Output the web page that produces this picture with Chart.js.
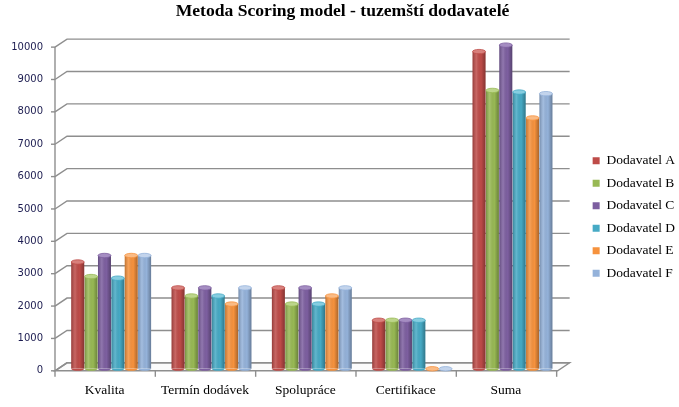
<!doctype html>
<html lang="cs">
<head>
<meta charset="utf-8">
<title>Metoda Scoring model</title>
<style>
  * { margin: 0; padding: 0; }
  body { background: #fff; }
  .chartBox { width: 679px; height: 407px; }
</style>
</head>
<body>
<div class="chartBox"><canvas id="myChart"></canvas></div>
<script src="https://cdn.jsdelivr.net/npm/chart.js/dist/chart.umd.min.js"></script>
<script>
// data
const categories = ['Kvalita', 'Termín dodávek', 'Spolupráce', 'Certifikace', 'Suma']
const seriesNames = ['Dodavatel A', 'Dodavatel B', 'Dodavatel C', 'Dodavatel D', 'Dodavatel E', 'Dodavatel F']
const dodavatelA = [3300, 2500, 2500, 1500, 9800]
const dodavatelB = [2850, 2250, 2000, 1500, 8600]
const dodavatelC = [3500, 2500, 2500, 1500, 10000]
const dodavatelD = [2800, 2250, 2000, 1500, 8550]
const dodavatelE = [3500, 2000, 2250, 0, 7750]
const dodavatelF = [3500, 2500, 2500, 0, 8500]
const yTicks = [0, 1000, 2000, 3000, 4000, 5000, 6000, 7000, 8000, 9000, 10000]

const colors = ['#BE4B48', '#98B954', '#7D5FA0', '#46AAC5', '#F6923D', '#94B2DA']
const tops = ['#D8807C', '#BCD58A', '#A58DC2', '#86CDE0', '#FABB85', '#C3D4EC']
const values = [dodavatelA, dodavatelB, dodavatelC, dodavatelD, dodavatelE, dodavatelF]

const gridColor = '#8e8e8e'

// back wall, floor and the slanted axis of the 3D look
const scene3d = {
  id: 'scene3d',
  beforeDatasetsDraw(chart) {
    const {ctx, chartArea: {left, right}, scales: {y}} = chart
    ctx.save()
    ctx.strokeStyle = gridColor
    ctx.lineWidth = 1.4
    // floor
    const y0 = y.getPixelForValue(0)
    ctx.fillStyle = '#fbfbfb'
    ctx.beginPath()
    ctx.moveTo(left - 6, y0 + 2)
    ctx.lineTo(right - 5, y0 + 2)
    ctx.lineTo(right + 7, y0 - 6)
    ctx.lineTo(left + 6, y0 - 6)
    ctx.closePath()
    ctx.fill()
    ctx.stroke()
    // gridlines on the back wall + diagonals to the front axis
    yTicks.forEach(v => {
      const py = y.getPixelForValue(v)
      ctx.beginPath()
      ctx.moveTo(left - 6, py + 2)
      ctx.lineTo(left + 6, py - 6)
      ctx.lineTo(right + 7, py - 6)
      ctx.stroke()
      // short tick on the front axis
      ctx.beginPath()
      ctx.moveTo(left - 10, py + 2)
      ctx.lineTo(left - 6, py + 2)
      ctx.stroke()
    })
    // front vertical axis
    ctx.beginPath()
    ctx.moveTo(left - 6, y.getPixelForValue(10000) + 2)
    ctx.lineTo(left - 6, y0 + 2)
    ctx.stroke()
    // category separators under the floor
    const step = (right - left) / categories.length
    for (let k = 0; k <= categories.length; k++) {
      const px = left - 6 + k * step
      ctx.beginPath()
      ctx.moveTo(px, y0 + 2)
      ctx.lineTo(px, y0 + 8)
      ctx.stroke()
    }
    ctx.restore()
  },
  afterDatasetsDraw(chart) {
    const {ctx} = chart
    ctx.save()
    chart.data.datasets.forEach((ds, i) => {
      const meta = chart.getDatasetMeta(i)
      meta.data.forEach(bar => {
        const {x, y, base, width} = bar.getProps(['x', 'y', 'base', 'width'], true)
        const l = x - width / 2
        const r = x + width / 2
        // cylinder shading
        if (base - y > 0.5) {
          const g = ctx.createLinearGradient(l, 0, r, 0)
          g.addColorStop(0, 'rgba(0,0,0,0.22)')
          g.addColorStop(0.3, 'rgba(255,255,255,0.15)')
          g.addColorStop(0.65, 'rgba(0,0,0,0)')
          g.addColorStop(1, 'rgba(0,0,0,0.3)')
          ctx.fillStyle = g
          ctx.fillRect(l, y, width, base - y)
          // rounded bottom
          ctx.beginPath()
          ctx.ellipse(x, base, width / 2, 2, 0, 0, Math.PI)
          ctx.fillStyle = colors[i]
          ctx.fill()
        }
        // top cap
        ctx.beginPath()
        ctx.ellipse(x, y, width / 2, 2.2, 0, 0, 2 * Math.PI)
        ctx.fillStyle = tops[i]
        ctx.fill()
        ctx.strokeStyle = colors[i]
        ctx.lineWidth = 0.8
        ctx.stroke()
      })
    })
    ctx.restore()
  }
}

const data = {
  labels: categories,
  datasets: seriesNames.map((name, i) => ({
    label: name,
    data: values[i],
    backgroundColor: colors[i],
    borderWidth: 0,
    categoryPercentage: 0.8,
    barPercentage: 0.97
  }))
}

const config = {
  type: 'bar',
  data,
  options: {
    responsive: false,
    animation: false,
    layout: {
      padding: {top: 0, right: -6, bottom: -6, left: 0}
    },
    plugins: {
      title: {
        display: true,
        text: 'Metoda Scoring model - tuzemští dodavatelé',
        color: '#000',
        font: {family: 'Liberation Serif', size: 17.6, weight: 'bold'},
        padding: {top: 1, bottom: 23}
      },
      legend: {
        position: 'right',
        title: {
          display: true,
          text: '',
          font: {size: 10, lineHeight: 1},
          padding: {top: 11, bottom: 0}
        },
        labels: {
          color: '#000',
          font: {family: 'Liberation Serif', size: 13.5},
          boxWidth: 7,
          boxHeight: 7,
          padding: 9
        }
      },
      tooltip: {enabled: false}
    },
    scales: {
      x: {
        grid: {display: false, drawTicks: false},
        border: {display: false},
        ticks: {
          color: '#000',
          font: {family: 'Liberation Serif', size: 13.5},
          padding: 14,
          labelOffset: -6.5,
          maxRotation: 0,
          autoSkip: false
        }
      },
      y: {
        min: 0,
        max: 10000,
        grid: {display: false, drawTicks: false},
        border: {display: false},
        ticks: {
          stepSize: 1000,
          color: '#1c1c50',
          font: {family: 'DejaVu Sans', size: 10},
          padding: 18,
          labelOffset: 2,
          callback: v => String(v)
        },
        afterFit: s => { s.width = 61 }
      },
      y2: {
        position: 'right',
        display: true,
        grid: {display: false, drawTicks: false},
        border: {display: false},
        ticks: {display: false},
        afterFit: s => { s.width = 21 }
      }
    }
  },
  plugins: [scene3d]
}

const ctx = document.getElementById('myChart')
ctx.width = 679
ctx.height = 407
const myChart = new Chart(ctx, config)
</script>
</body>
</html>
